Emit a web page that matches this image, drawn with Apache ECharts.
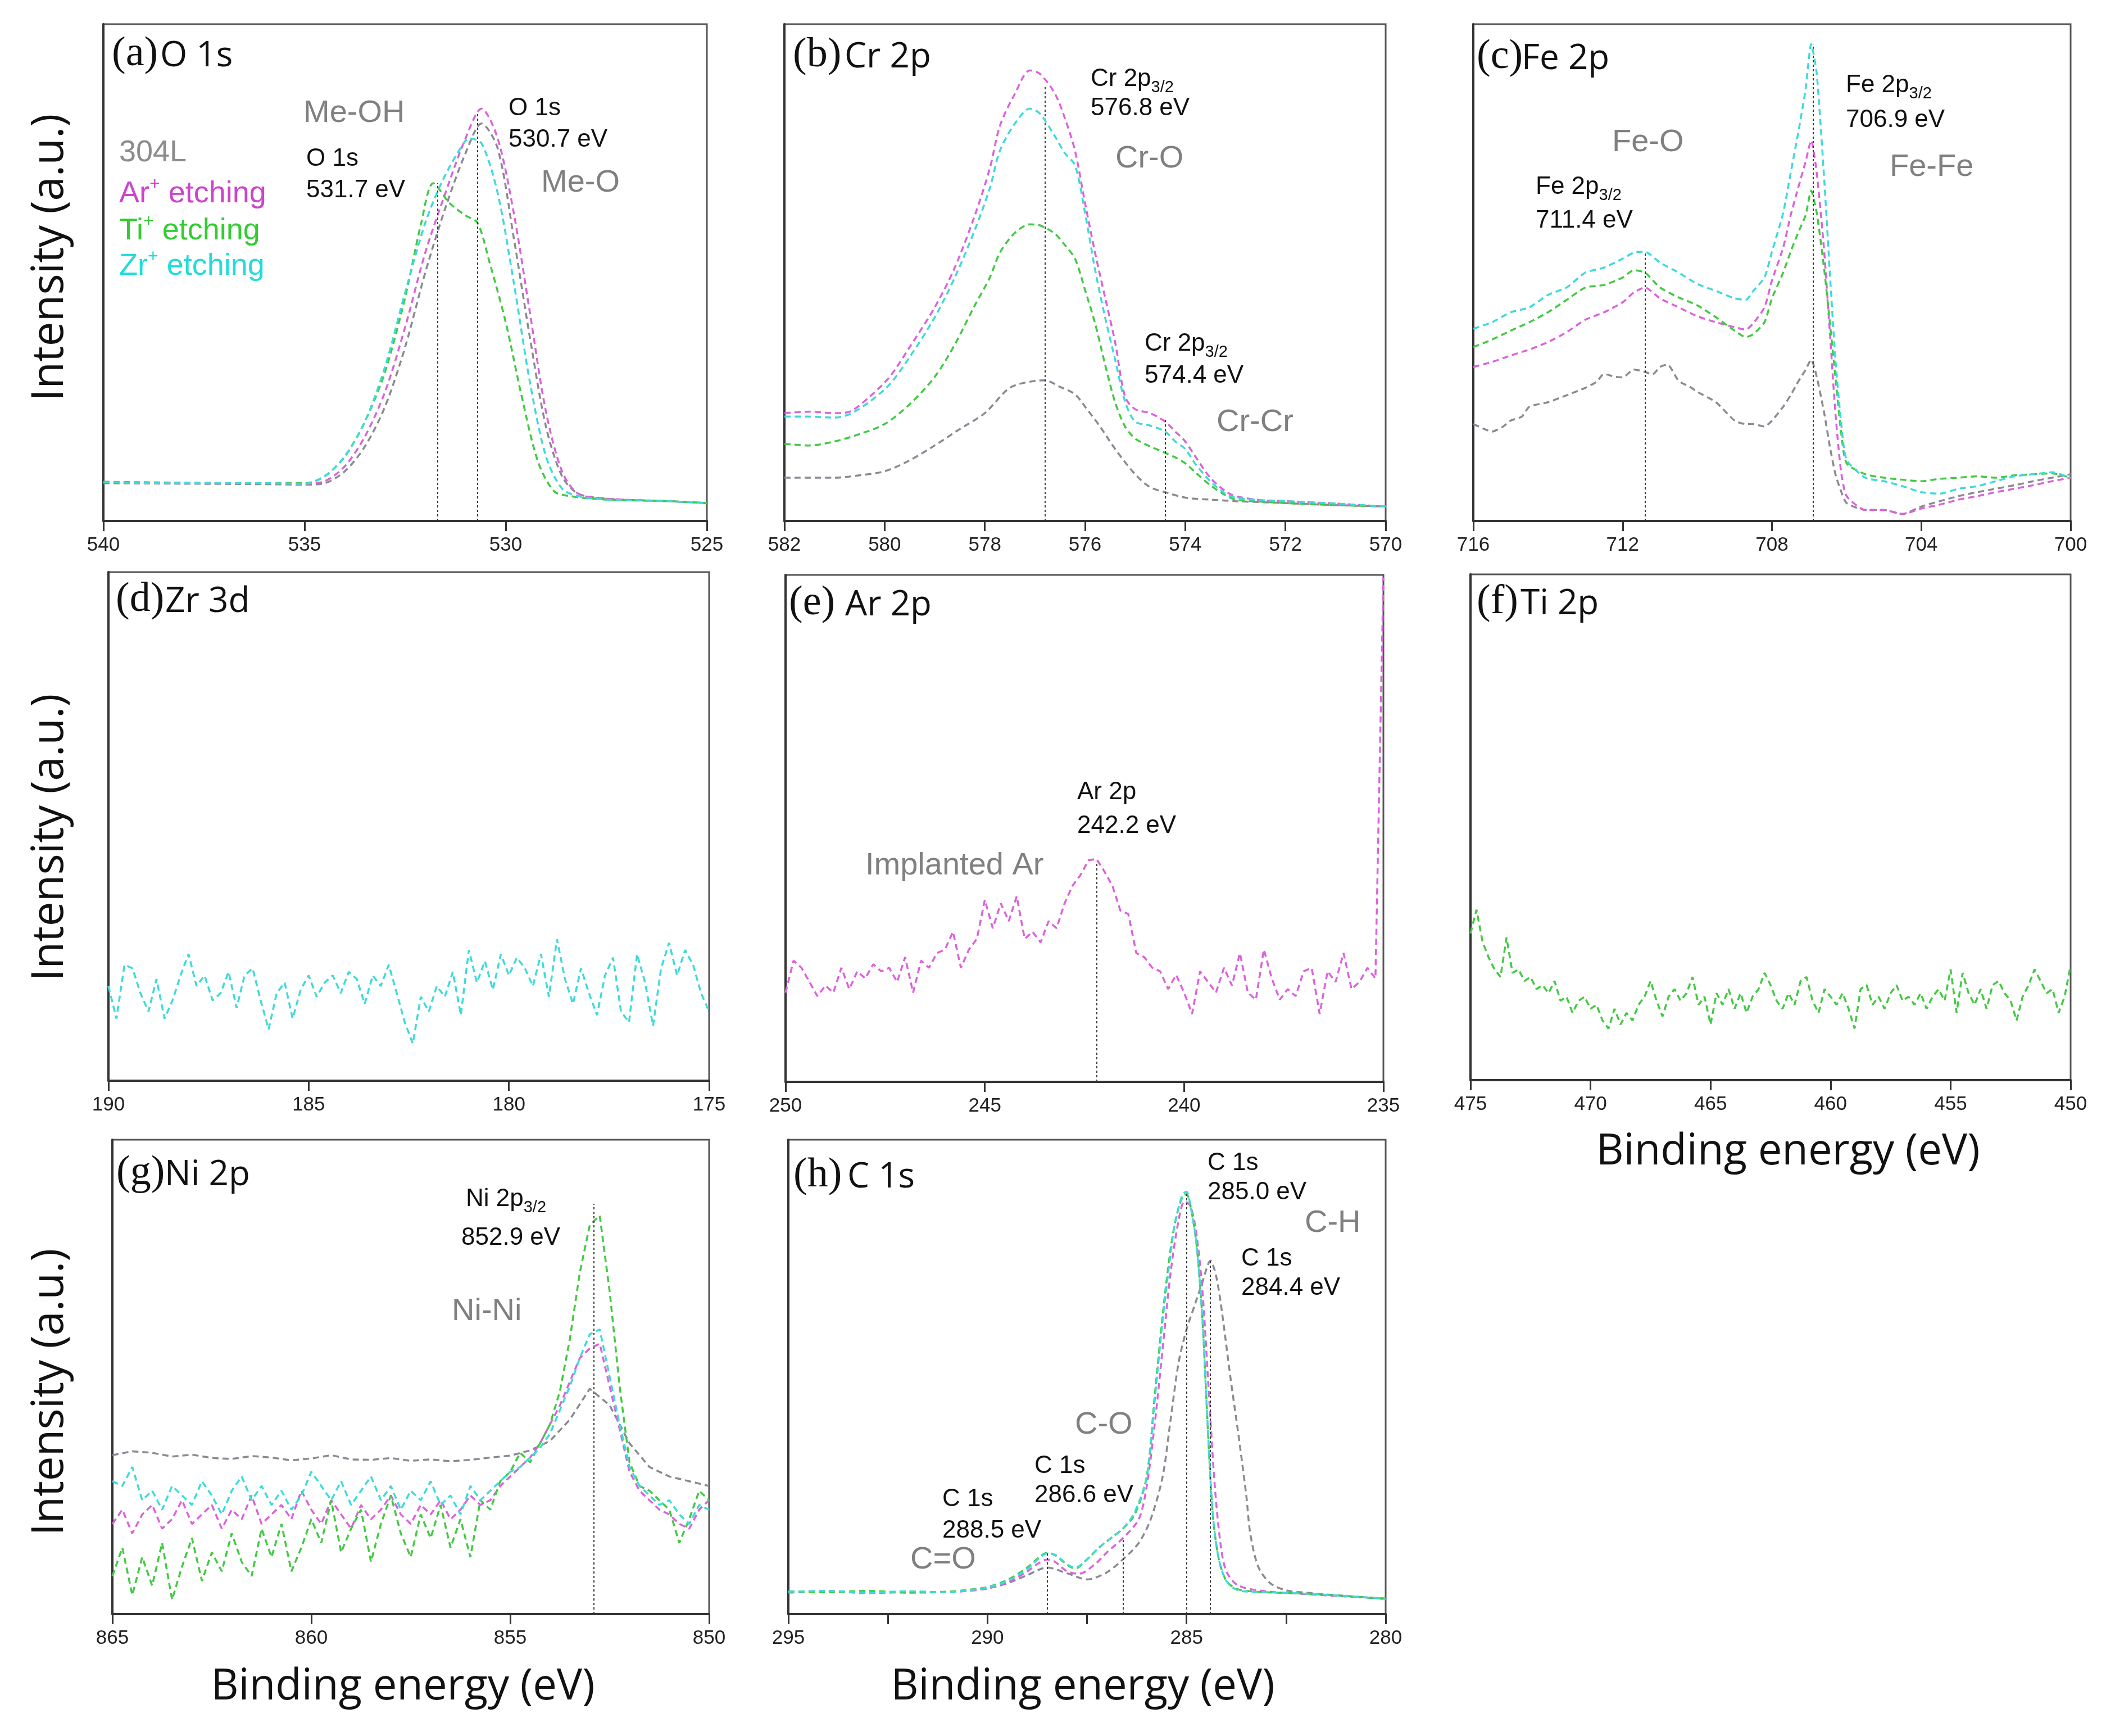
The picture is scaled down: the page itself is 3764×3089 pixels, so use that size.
<!DOCTYPE html>
<html><head><meta charset="utf-8">
<script src="https://cdn.jsdelivr.net/npm/echarts@6/dist/echarts.min.js"></script>
<style>html,body{margin:0;padding:0;background:#fff}#c{width:3764px;height:3089px}</style>
</head><body><div id="c"></div>
<script>
// ---------- sample names ----------
const sampleNames = ['304L', 'Ar+ etching', 'Ti+ etching', 'Zr+ etching'];

// ---------- x-axis ranges [min, max, interval] ----------
const xRangeO1s = [525, 540, 5];
const xRangeCr2p = [570, 582, 2];
const xRangeFe2p = [700, 716, 4];
const xRangeZr3d = [175, 190, 5];
const xRangeAr2p = [235, 250, 5];
const xRangeTi2p = [450, 475, 5];
const xRangeNi2p = [850, 865, 5];
const xRangeC1s = [280, 295, 5];

// ---------- (a) O 1s ----------
const o1s_304L = [[540,7.6],[538,7.5],[536,7.4],[535,7.3],[534.5,7.6],[534,10],[533.5,15],[533,23],[532.5,35],[532,50],[531.5,63],[531,74],[530.6,80],[530.2,75],[529.8,57],[529.4,37],[529,19],[528.6,9],[528.2,5.5],[527.5,4.5],[526,4],[525,3.6]];
const o1s_Ar = [[540,7.8],[538,7.6],[536,7.6],[535,7.5],[534.5,8],[534,11],[533.5,17],[533,26],[532.5,39],[532,54],[531.5,66],[531,77],[530.6,83],[530.2,77],[529.8,62],[529.4,42],[529,22],[528.6,10],[528.2,5.5],[527.5,4.5],[526,4],[525,3.6]];
const o1s_Ti = [[540,7.9],[538,7.7],[536,7.6],[535,7.6],[534.5,9],[534,13],[533.5,20],[533,30],[532.5,45],[532.1,60],[531.8,68],[531.4,64],[531,61.5],[530.7,60],[530.4,52],[530,40],[529.6,25],[529.2,12],[528.8,6],[528.4,5],[527.5,4.3],[526,4],[525,3.6]];
const o1s_Zr = [[540,7.8],[538,7.6],[536,7.6],[535,7.5],[534.5,9],[534,13],[533.5,20],[533,31],[532.5,46],[532,60],[531.6,68],[531.2,74],[530.9,77],[530.6,76],[530.2,66],[529.8,48],[529.4,28],[529,13],[528.6,6.5],[528.2,5],[527.5,4.3],[526,4],[525,3.6]];
const o1s_refLines = [[531.7,68],[530.7,82]];

// ---------- (b) Cr 2p ----------
const cr2p_304L = [[582,8.7],[581,8.7],[580.5,9.2],[580,10],[579.5,12.2],[579,15.2],[578.5,18.5],[578,21.7],[577.5,26.8],[577,28.2],[576.8,28.3],[576.5,27],[576.2,25.5],[576,23],[575.7,19],[575.4,14.5],[575,9.4],[574.7,6.8],[574.4,5.8],[574,4.7],[573.5,4.3],[573,4],[572,3.6],[571,3.2],[570,2.9]];
const cr2p_Ar = [[582,21.7],[581.5,22],[581,21.7],[580.7,22],[580.3,25],[579.9,29],[579.5,35],[579,43],[578.6,51],[578.2,61.5],[577.9,71],[577.7,79.5],[577.4,86],[577.1,90.7],[576.9,90],[576.6,86],[576.4,81],[576.2,74.5],[576,64],[575.8,54],[575.6,45],[575.4,36],[575.2,25],[575,22.5],[574.7,21.7],[574.4,20],[574.2,18],[574,16],[573.8,13],[573.5,8.7],[573.2,6],[573,5],[572.5,4.2],[572,4],[571,3.5],[570,2.9]];
const cr2p_Ti = [[582,15.5],[581.5,15.2],[581,16],[580.5,17.5],[580,19.5],[579.5,23.5],[579,29],[578.6,35.5],[578.2,43.4],[577.9,49],[577.7,54],[577.4,58],[577.1,59.7],[576.9,59.5],[576.6,57.8],[576.4,55.5],[576.2,52.8],[576,46.5],[575.8,39.8],[575.6,31.5],[575.4,23.9],[575.2,19],[575,16.6],[574.7,15],[574.4,13.7],[574.2,12.8],[574,11.6],[573.8,9.8],[573.5,7.2],[573.2,5.2],[573,4.3],[572.5,3.9],[572,3.6],[571,3.2],[570,2.9]];
const cr2p_Zr = [[582,21],[581.5,21],[581,20.8],[580.7,21.5],[580.3,24],[579.9,27.5],[579.5,33],[579,41],[578.6,49],[578.2,58.6],[577.9,67],[577.7,74.5],[577.4,80],[577.1,83],[576.9,82],[576.6,77.4],[576.4,74],[576.2,71.6],[576,62],[575.8,50.6],[575.6,41],[575.4,32.5],[575.2,24],[575,20],[574.7,19.2],[574.4,18],[574.2,16],[574,14.5],[573.8,11.5],[573.5,8],[573.2,5.5],[573,4.7],[572.5,4.2],[572,4],[571,3.5],[570,2.9]];
const cr2p_refLines = [[576.8,87.5],[574.4,20.6]];

// ---------- (c) Fe 2p ----------
const fe2p_304L = [[716,19.5],[715.7,18.5],[715.5,18],[715.2,19],[715,20.2],[714.7,21],[714.5,23],[714,23.9],[713.5,25.3],[713,26.8],[712.7,28],[712.5,29.6],[712.2,29],[712,28.9],[711.7,30.5],[711.4,30],[711.2,29.5],[711,31],[710.8,31.5],[710.5,28.2],[710.2,27],[710,26],[709.5,23.9],[709,20.2],[708.7,19.5],[708.5,19.5],[708.2,19],[708,20.2],[707.7,23],[707.5,25.3],[707.3,28],[707.1,30.4],[706.95,32.5],[706.8,29],[706.6,21.7],[706.45,15],[706.3,9.4],[706.15,6],[706,3.6],[705.5,2.2],[705,2.2],[704.5,1.4],[704,2.9],[703.5,4],[703,5],[702.5,5.8],[702,6.5],[701.5,7.2],[701,8],[700.5,8.7],[700,9.4]];
const fe2p_Ar = [[716,31],[715.5,32],[715,33.3],[714.5,34.5],[714,36],[713.5,38],[713,40.5],[712.5,42],[712,44],[711.7,46],[711.4,47],[711,44.8],[710.5,43],[710,41.2],[709.5,40],[709,39],[708.7,38.5],[708.5,39.8],[708.2,43],[708,48.4],[707.7,55],[707.5,61.5],[707.3,67],[707.1,72.3],[706.95,76.6],[706.8,70],[706.6,54.2],[706.45,38],[706.3,21.7],[706.15,10],[706,5],[705.5,2.2],[705,2.2],[704.5,1.4],[704,2.5],[703.5,3.3],[703,4.3],[702.5,5],[702,5.8],[701.5,6.5],[701,7.2],[700.5,8],[700,8.7]];
const fe2p_Ti = [[716,35],[715.5,36.5],[715,38.3],[714.5,40],[714,42],[713.5,44.5],[713,47],[712.5,47.5],[712,49],[711.7,50.5],[711.4,50],[711,47],[710.5,45],[710,43.4],[709.5,41],[709,38.3],[708.7,37],[708.5,37.6],[708.2,40],[708,44.8],[707.7,50],[707.5,54.2],[707.3,58],[707.1,61.5],[706.95,66.5],[706.8,62],[706.6,50.6],[706.45,40],[706.3,29],[706.15,18],[706,11.6],[705.5,9.4],[705,8.7],[704.5,8.3],[704,8],[703.5,8.5],[703,8.7],[702.5,9],[702,8.7],[701.5,9.2],[701,9.4],[700.5,9.6],[700,8.7]];
const fe2p_Zr = [[716,38.7],[715.5,40],[715,42],[714.5,43],[714,45.5],[713.5,47],[713,50],[712.5,51],[712,52.8],[711.7,54],[711.4,54.2],[711,52],[710.5,50],[710,47.7],[709.5,46.3],[709,44.8],[708.7,44.5],[708.5,46.3],[708.2,49],[708,54.2],[707.7,62],[707.5,70],[707.3,78],[707.1,86.8],[706.95,96],[706.8,90],[706.6,68.7],[706.45,50],[706.3,32.5],[706.15,20],[706,12.3],[705.5,8.7],[705,8],[704.5,7],[704,5.8],[703.5,5.5],[703,6.5],[702.5,7],[702,8],[701.5,9],[701,9.4],[700.5,9.8],[700,8.7]];
const fe2p_refLines = [[711.4,54],[706.9,96]];

// ---------- (d) Zr 3d (Zr+ etching), 190 -> 175 eV every 0.2 eV ----------
const zr3d_energyStart = 190, zr3d_energyStep = -0.2;
const zr3d_Zr = [18.6,12.2,22.8,22.1,17.2,13.6,20.0,12.2,15.8,20.7,
  24.9,18.6,20.7,15.8,17.2,21.4,14.3,20.7,22.1,15.8,
  10.1,17.2,19.3,12.2,17.9,20.7,16.5,19.3,20.7,17.2,
  21.4,20.0,15.1,20.7,18.6,22.8,17.2,11.5,7.3,16.5,
  13.6,18.6,16.5,21.4,12.9,25.7,19.3,23.5,17.9,24.9,
  20.7,24.2,22.1,18.6,24.9,16.5,27.8,20.0,15.1,22.1,
  17.2,12.9,20.7,24.2,13.6,11.5,24.9,19.3,10.8,22.1,
  27.1,20.7,25.7,22.8,17.2,13.6];

// ---------- (e) Ar 2p (Ar+ etching), 250 -> 235 eV every 0.2 eV ----------
const ar2p_energyStart = 250, ar2p_energyStep = -0.2;
const ar2p_Ar = [17.6,23.9,22.5,19.7,16.9,19.0,17.6,22.5,18.3,21.8,
  20.4,23.2,21.8,22.5,19.7,24.6,17.6,23.9,22.5,25.4,
  26.1,29.6,22.5,26.1,28.2,35.9,30.3,35.2,31.7,36.6,
  28.2,29.6,27.5,31.7,30.3,35.2,38.7,40.8,43.7,44.0,
  41.5,38.7,33.8,33.1,25.4,24.6,22.5,21.8,18.3,21.1,
  17.6,13.4,21.8,19.7,17.6,22.5,19.0,25.4,17.6,16.2,
  26.1,20.4,16.2,18.3,16.9,21.8,22.5,13.4,21.8,19.7,
  25.4,18.3,19.7,22.5,20.4,99.5];
const ar2p_refLines = [[242.2,43.5]];

// ---------- (f) Ti 2p (Ti+ etching), 475 -> 450 eV every 0.25 eV ----------
const ti2p_energyStart = 475, ti2p_energyStep = -0.25;
const ti2p_Ti = [29.0,33.7,27.4,24.3,21.9,20.4,28.2,21.2,21.9,19.6,
  20.4,18.0,18.8,17.2,19.6,15.7,16.5,13.3,15.7,16.5,
  14.1,14.9,11.8,10.2,14.1,11.0,13.3,11.8,14.9,16.5,
  19.6,15.7,12.6,16.5,18.0,15.7,17.2,20.4,14.9,16.5,
  11.0,17.2,14.9,18.0,14.1,17.2,13.3,16.5,18.0,21.2,
  18.8,15.7,14.1,17.2,14.9,19.6,20.4,15.7,13.3,18.0,
  16.5,14.9,17.2,14.1,10.2,18.0,18.8,14.9,16.5,14.1,
  17.2,18.8,15.7,16.5,14.9,17.2,14.1,16.5,18.0,15.7,
  21.9,13.3,21.2,17.2,14.9,18.0,14.1,18.8,19.6,17.2,
  15.7,11.8,16.5,18.8,21.9,19.6,17.2,18.0,13.3,16.5,
  22.7];

// ---------- (g) Ni 2p, 865 -> 850 eV ----------
const ni2p_energyStart = 865, ni2p_energyStep = -0.25;
const ni2p_Ar = [19,22,17,21,23,18,20,24,19,21,
  23,18,22,20,25,19,21,23,20,26,
  22,19,24,21,18,23,20,22,25,21,
  19,23,21,24,20,22,25,23,24,27,
  29,31,33,36,40,44,49,54,56,57,
  48,39,30,26,24,22,21,19,18,22,
  24];
const ni2p_Ti = [8,14,4,12,6,15,3,10,16,7,
  13,9,17,11,8,18,12,19,9,14,
  20,15,24,13,18,22,11,19,25,17,
  12,21,16,23,14,20,12,24,22,28,
  30,34,32,36,40,47,58,72,82,84,
  68,48,32,27,26,24,22,15,20,26,
  24];
const ni2p_Zr = [28,27,31,24,26,22,27,25,23,28,
  25,21,26,29,24,27,23,26,22,25,
  30,27,24,28,23,26,29,24,27,22,
  26,24,28,23,25,21,27,24,26,28,
  30,31,33,35,38,43,48,54,59,60,
  50,40,31,27,25,23,24,21,19,23,
  22];
const ni2p_304L_energyStep = -0.5;
const ni2p_304L = [33.5,34.3,34.0,33.2,33.6,32.9,32.7,33.3,33.0,32.4,
  32.8,33.5,32.6,32.5,32.9,32.3,32.6,32.2,32.5,33.0,
  33.4,34.5,36.5,41.0,47.5,44.0,36.0,31.0,29.0,28.0,
  27.0];
const ni2p_refLines = [[852.9,86.5]];

// ---------- (h) C 1s ----------
const c1s_304L = [[295,4.7],[294,4.8],[293,4.5],[292,4.6],[291,4.7],[290.5,4.9],[290,5.4],[289.5,6.5],[289,8.2],[288.5,9.8],[288,8.6],[287.5,7.3],[287,8.8],[286.6,11.5],[286.2,15],[285.9,20],[285.6,29],[285.4,41],[285.2,53],[285,60],[284.8,65],[284.6,70],[284.4,74.5],[284.25,71],[284.1,63],[283.9,50],[283.7,38],[283.5,25],[283.4,17],[283.2,10],[282.9,6.5],[282.5,5],[282,4.5],[281,3.8],[280,3.2]];
const c1s_Ar = [[295,4.5],[294,4.8],[293,4.4],[292,4.7],[291,4.6],[290.5,4.9],[290,5.4],[289.5,6.6],[289,9],[288.7,10.8],[288.5,11.5],[288.3,11],[288,9],[287.7,8.5],[287.3,10.5],[287,13],[286.6,16],[286.2,20],[286,27],[285.8,40],[285.6,56],[285.4,72],[285.2,83],[285.05,87],[284.9,86],[284.75,80],[284.6,68],[284.45,48],[284.3,28],[284.15,15],[284,9],[283.7,6],[283,4.8],[282,4.2],[281,3.7],[280,3.3]];
const c1s_Ti = [[295,4.8],[294,4.6],[293,4.9],[292,4.5],[291,4.7],[290.5,5.1],[290,5.7],[289.5,7.2],[289,9.8],[288.7,12],[288.5,12.9],[288.3,12.4],[288,10.4],[287.8,9.6],[287.5,11.5],[287.2,14],[286.9,16],[286.6,18],[286.3,21],[286,29],[285.8,46],[285.6,63],[285.4,77],[285.25,84],[285.1,88],[285,88.5],[284.9,86],[284.75,78],[284.6,62],[284.5,45],[284.35,22],[284.2,12],[284,7],[283.7,5.2],[283,4.6],[282,4.3],[281,3.8],[280,3.2]];
const c1s_Zr = [[295,4.7],[294,4.9],[293,4.5],[292,4.8],[291,4.6],[290.5,5],[290,5.6],[289.5,7],[289,9.5],[288.7,11.8],[288.5,12.8],[288.3,12.5],[288,10.5],[287.8,9.8],[287.5,11.5],[287.2,14],[286.9,16],[286.6,18],[286.3,21.5],[286,29],[285.8,45],[285.6,62],[285.4,76],[285.3,82],[285.1,88.5],[285,89],[284.9,86],[284.75,78],[284.6,62],[284.5,45],[284.35,22],[284.2,12],[284,7],[283.7,5],[283,4.6],[282,4.3],[281,3.8],[280,3.2]];
const c1s_refLines = [[288.5,12.9],[286.6,15.8],[285.0,89],[284.4,74.5]];

// ================= rendering =================
const COLORS = {'304L':'#8a8a94', 'Ar':'#dc62dc', 'Ti':'#43c943', 'Zr':'#3fdada'};
const FA = '"Liberation Sans", Arial, sans-serif';
const FO = '"Open Sans", sans-serif';
const FS = '"Liberation Serif", "Times New Roman", serif';

function gridSeries(start, step, vals) {
  return vals.map((v, i) => [Math.round((start + i * step) * 1000) / 1000, v]);
}

const panels = [
  {box:[184,43,1074,884], range:xRangeO1s, lines:[['304L',o1s_304L],['Ar',o1s_Ar],['Ti',o1s_Ti],['Zr',o1s_Zr]], ref:o1s_refLines, smooth:0.3},
  {box:[1396,43,1070,884], range:xRangeCr2p, lines:[['304L',cr2p_304L],['Ar',cr2p_Ar],['Ti',cr2p_Ti],['Zr',cr2p_Zr]], ref:cr2p_refLines, smooth:0.3},
  {box:[2622,43,1063,884], range:xRangeFe2p, lines:[['304L',fe2p_304L],['Ar',fe2p_Ar],['Ti',fe2p_Ti],['Zr',fe2p_Zr]], ref:fe2p_refLines, smooth:0.2},
  {box:[193,1018,1069,905], range:xRangeZr3d, lines:[['Zr',gridSeries(zr3d_energyStart,zr3d_energyStep,zr3d_Zr)]], ref:[], smooth:0},
  {box:[1398,1023,1064,902], range:xRangeAr2p, lines:[['Ar',gridSeries(ar2p_energyStart,ar2p_energyStep,ar2p_Ar)]], ref:ar2p_refLines, smooth:0},
  {box:[2617,1022,1068,900], range:xRangeTi2p, lines:[['Ti',gridSeries(ti2p_energyStart,ti2p_energyStep,ti2p_Ti)]], ref:[], smooth:0},
  {box:[200,2028,1062,844], range:xRangeNi2p, lines:[['304L',gridSeries(ni2p_energyStart,ni2p_304L_energyStep,ni2p_304L)],['Ar',gridSeries(ni2p_energyStart,ni2p_energyStep,ni2p_Ar)],['Ti',gridSeries(ni2p_energyStart,ni2p_energyStep,ni2p_Ti)],['Zr',gridSeries(ni2p_energyStart,ni2p_energyStep,ni2p_Zr)]], ref:ni2p_refLines, smooth:0},
  {box:[1403,2028,1063,844], range:xRangeC1s, lines:[['304L',c1s_304L],['Ar',c1s_Ar],['Ti',c1s_Ti],['Zr',c1s_Zr]], ref:c1s_refLines, smooth:0.3, minor:true}
];

const grids = [], xAxes = [], yAxes = [], series = [];
panels.forEach((p, i) => {
  grids.push({left:p.box[0], top:p.box[1], width:p.box[2], height:p.box[3], show:true, borderColor:'#555', borderWidth:3, backgroundColor:'transparent'});
  xAxes.push({gridIndex:i, type:'value', min:p.range[0], max:p.range[1], interval:p.range[2], inverse:true,
    axisLine:{onZero:false, lineStyle:{color:'#333', width:4}},
    axisTick:{show:true, inside:false, length:18, lineStyle:{color:'#333', width:3}},
    minorTick:{show:!!p.minor, splitNumber:2, length:18, lineStyle:{color:'#333', width:3}},
    axisLabel:{fontFamily:FA, fontSize:35, color:'#222', margin:26, showMinLabel:true, showMaxLabel:true},
    splitLine:{show:false}});
  yAxes.push({gridIndex:i, type:'value', min:0, max:100,
    axisLine:{show:true, onZero:false, lineStyle:{color:'#333', width:4}},
    axisTick:{show:false}, axisLabel:{show:false}, splitLine:{show:false}});
  p.lines.forEach((ln, k) => {
    const s = {type:'line', xAxisIndex:i, yAxisIndex:i, data:ln[1], showSymbol:false, symbol:'none',
      smooth:p.smooth, z:2 + k, silent:true,
      lineStyle:{color:COLORS[ln[0]], width:3.5, type:[11,7]}};
    if (k === 0 && p.ref.length) {
      s.markLine = {silent:true, symbol:['none','none'], label:{show:false}, animation:false,
        lineStyle:{color:'#3a3a3a', type:[4,4], width:2},
        data:p.ref.map(r => [{coord:[r[0], 0]}, {coord:[r[0], r[1]]}])};
    }
    series.push(s);
  });
});

// ---------- text helpers ----------
function T(x, y, text, size, color, family, extra) {
  return {type:'text', x:x, y:y, z:100, silent:true,
    style:Object.assign({text:text, fontSize:size, fontFamily:family || FA, fill:color || '#111', align:'left', verticalAlign:'middle'}, extra || {})};
}
function SUB(x, y, main, sub, size) {
  return {type:'text', x:x, y:y, z:100, silent:true,
    style:{text:'{m|' + main + '}{s|' + sub + '}', align:'left', verticalAlign:'middle', fontSize:size, fontFamily:FA, fill:'#111',
      rich:{m:{fontSize:size, fontFamily:FA, fill:'#111', lineHeight:Math.round(size*1.35)},
            s:{fontSize:Math.round(size*0.66), fontFamily:FA, fill:'#111', verticalAlign:'bottom'}}}};
}
function SUP(x, y, a, b, size, color) {
  return {type:'text', x:x, y:y, z:100, silent:true,
    style:{text:'{m|' + a + '}{p|+}{m|' + b + '}', align:'left', verticalAlign:'middle', fontSize:size, fontFamily:FA, fill:color,
      rich:{m:{fontSize:size, fontFamily:FA, fill:color, lineHeight:Math.round(size*1.2)},
            p:{fontSize:Math.round(size*0.6), fontFamily:FA, fill:color, verticalAlign:'top'}}}};
}
function TITLE(x, y, letter, name, dx) {
  return [T(x, y, letter, 74, '#111', FS), T(x + dx, y + 3, name, 62, '#111', FO)];
}
const G = '#808080';
const graphic = [].concat(
  TITLE(199, 97, '(a)', 'O 1s', 86),
  TITLE(1411, 99, '(b)', 'Cr 2p', 92),
  TITLE(2628, 102, '(c)', 'Fe 2p', 80),
  TITLE(206, 1068, '(d)', 'Zr 3d', 88),
  TITLE(1404, 1074, '(e)', 'Ar 2p', 100),
  TITLE(2628, 1072, '(f)', 'Ti 2p', 78),
  TITLE(207, 2088, '(g)', 'Ni 2p', 86),
  TITLE(1412, 2092, '(h)', 'C 1s', 96),
  [
    // legend in (a)
    T(212, 272, sampleNames[0], 54, '#8c8c8c'),
    SUP(212, 345, 'Ar', ' etching', 54, '#cc44cc'),
    SUP(212, 411, 'Ti', ' etching', 54, '#33cc33'),
    SUP(212, 474, 'Zr', ' etching', 54, '#22dcdc'),
    // (a) annotations
    T(540, 202, 'Me-OH', 56, G),
    T(545, 283, 'O 1s', 44), T(545, 339, '531.7 eV', 44),
    T(905, 193, 'O 1s', 44), T(905, 249, '530.7 eV', 44),
    T(963, 326, 'Me-O', 56, G),
    // (b)
    SUB(1941, 141, 'Cr 2p', '3/2', 44), T(1941, 193, '576.8 eV', 44),
    T(1985, 283, 'Cr-O', 56, G),
    SUB(2037, 612, 'Cr 2p', '3/2', 44), T(2037, 669, '574.4 eV', 44),
    T(2165, 752, 'Cr-Cr', 56, G),
    // (c)
    SUB(3285, 152, 'Fe 2p', '3/2', 44), T(3285, 214, '706.9 eV', 44),
    T(2869, 254, 'Fe-O', 56, G),
    T(3363, 298, 'Fe-Fe', 56, G),
    SUB(2733, 333, 'Fe 2p', '3/2', 44), T(2733, 393, '711.4 eV', 44),
    // (e)
    T(1917, 1410, 'Ar 2p', 44), T(1917, 1470, '242.2 eV', 44),
    T(1540, 1541, 'Implanted Ar', 56, G),
    // (g)
    SUB(829, 2134, 'Ni 2p', '3/2', 44), T(821, 2203, '852.9 eV', 44),
    T(804, 2334, 'Ni-Ni', 56, G),
    // (h)
    T(2149, 2070, 'C 1s', 44), T(2149, 2122, '285.0 eV', 44),
    T(2322, 2177, 'C-H', 56, G),
    T(2209, 2240, 'C 1s', 44), T(2209, 2292, '284.4 eV', 44),
    T(1913, 2536, 'C-O', 56, G),
    T(1841, 2609, 'C 1s', 44), T(1841, 2661, '286.6 eV', 44),
    T(1677, 2668, 'C 1s', 44), T(1677, 2724, '288.5 eV', 44),
    T(1620, 2776, 'C=O', 56, G),
    // axis titles
    T(90, 458, 'Intensity (a.u.)', 78, '#111', FO, {align:'center'}),
    T(90, 1490, 'Intensity (a.u.)', 78, '#111', FO, {align:'center'}),
    T(90, 2477, 'Intensity (a.u.)', 78, '#111', FO, {align:'center'}),
    T(3182, 2050, 'Binding energy (eV)', 76, '#111', FO, {align:'center'}),
    T(717, 3002, 'Binding energy (eV)', 76, '#111', FO, {align:'center'}),
    T(1927, 3002, 'Binding energy (eV)', 76, '#111', FO, {align:'center'})
  ]
);
// rotate y-axis titles
graphic.forEach(g => { if (g.style && g.style.text === 'Intensity (a.u.)') g.rotation = Math.PI / 2; });

const chart = echarts.init(document.getElementById('c'), null, {renderer:'canvas'});
chart.setOption({
  animation:false,
  backgroundColor:'#ffffff',
  grid:grids, xAxis:xAxes, yAxis:yAxes, series:series, graphic:graphic
});
</script></body></html>
